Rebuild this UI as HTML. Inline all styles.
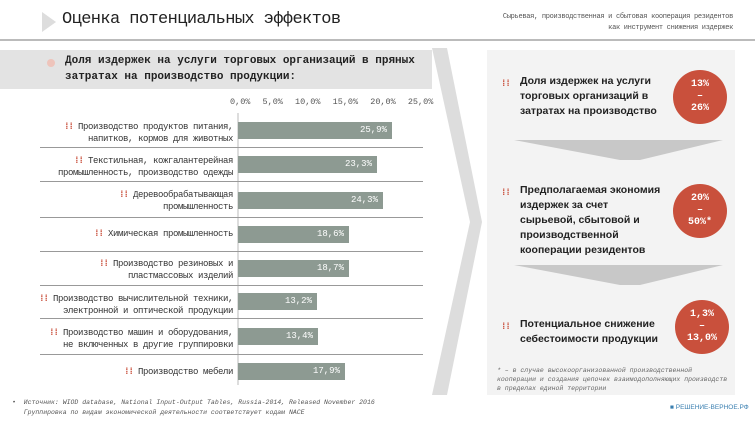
<!DOCTYPE html>
<html><head><meta charset="utf-8"><style>
body{margin:0;width:755px;height:425px;background:#fff;position:relative;overflow:hidden;font-family:"Liberation Mono","DejaVu Sans Mono",monospace;color:#222}
.a{position:absolute}
.lbl{position:absolute;right:522px;text-align:right;font-size:9px;letter-spacing:-0.4px;line-height:12px;color:#333;white-space:nowrap}
.bar{position:absolute;left:238px;height:17px;background:#8d9a92;color:#fff;font-size:9px;line-height:17px;text-align:right;box-sizing:border-box;padding-right:5px}
.sep{position:absolute;left:40px;width:383px;height:1px;background:#999}
.dots{color:#c9503c;font-size:9px;font-weight:bold;letter-spacing:-1px}
.c{position:absolute;width:54px;height:54px;border-radius:50%;background:#c9503c;color:#fff;font-size:10px;font-weight:bold;text-align:center;display:flex;flex-direction:column;justify-content:center;line-height:12px}
.rt{position:absolute;left:520px;font-family:"Liberation Sans",sans-serif;font-weight:bold;font-size:10.5px;line-height:15px;color:#222}
</style></head><body>
<svg class="a" style="left:0;top:0" width="755" height="425">
<polygon points="42,12 56,22 42,32" fill="#ddd"/>
<rect x="0" y="39" width="755" height="2" fill="#bbb"/>
<rect x="0" y="50" width="432" height="39" fill="#e3e3e3"/>
<polygon points="432,48 447,48 482,222 447,395 432,395 470,222" fill="#ddd"/>
<rect x="487" y="50" width="248" height="345" fill="#f3f3f3"/>
<polygon points="514,140 723,140 640,160 620,160" fill="#c8c8c8"/>
<polygon points="514,265 723,265 640,285 620,285" fill="#c8c8c8"/>
<line x1="238" y1="113" x2="238" y2="385" stroke="#bbb"/>
<circle cx="51" cy="63" r="4" fill="#eec4bb"/>
</svg>
<div class="a" style="left:62px;top:10px;font-size:17px;letter-spacing:-0.6px;color:#222">Оценка потенциальных эффектов</div>
<div class="a" style="right:22px;top:12px;font-size:7px;letter-spacing:-0.3px;line-height:11px;text-align:right;color:#555">Сырьевая, производственная и сбытовая кооперация резидентов<br>как инструмент снижения издержек</div>
<div class="a" style="left:65px;top:53px;font-size:11px;font-weight:bold;line-height:16px;color:#222">Доля издержек на услуги торговых организаций в пряных<br>затратах на производство продукции:</div>
<div class="a" style="left:230px;top:97px;font-size:8.5px;color:#555;word-spacing:7px">0,0% 5,0% 10,0% 15,0% 20,0% 25,0%</div>

<div class="lbl" style="top:121px"><span class="dots">⁞⁞</span> Производство продуктов питания,<br>напитков, кормов для животных</div>
<div class="bar" style="top:122px;width:154px">25,9%</div>
<div class="sep" style="top:147px"></div>
<div class="lbl" style="top:155px"><span class="dots">⁞⁞</span> Текстильная, кожгалантерейная<br>промышленность, производство одежды</div>
<div class="bar" style="top:156px;width:139px">23,3%</div>
<div class="sep" style="top:181px"></div>
<div class="lbl" style="top:189px"><span class="dots">⁞⁞</span> Деревообрабатывающая<br>промышленность</div>
<div class="bar" style="top:192px;width:145px">24,3%</div>
<div class="sep" style="top:217px"></div>
<div class="lbl" style="top:228px"><span class="dots">⁞⁞</span> Химическая промышленность</div>
<div class="bar" style="top:226px;width:111px">18,6%</div>
<div class="sep" style="top:251px"></div>
<div class="lbl" style="top:258px"><span class="dots">⁞⁞</span> Производство резиновых и<br>пластмассовых изделий</div>
<div class="bar" style="top:260px;width:111px">18,7%</div>
<div class="sep" style="top:285px"></div>
<div class="lbl" style="top:293px"><span class="dots">⁞⁞</span> Производство вычислительной техники,<br>электронной и оптической продукции</div>
<div class="bar" style="top:293px;width:79px">13,2%</div>
<div class="sep" style="top:318px"></div>
<div class="lbl" style="top:327px"><span class="dots">⁞⁞</span> Производство машин и оборудования,<br>не включенных в другие группировки</div>
<div class="bar" style="top:328px;width:80px">13,4%</div>
<div class="sep" style="top:354px"></div>
<div class="lbl" style="top:366px"><span class="dots">⁞⁞</span> Производство мебели</div>
<div class="bar" style="top:363px;width:107px">17,9%</div>

<div class="a" style="left:12px;top:398px;font-size:6.5px;line-height:10px;color:#555;font-style:italic">•&nbsp; Источник: WIOD database, National Input-Output Tables, Russia-2014, Released November 2016<br>&nbsp;&nbsp;&nbsp;Группировка по видам экономической деятельности соответствует кодам NACE</div>

<div class="a dots" style="left:501px;top:79px">⁞⁞</div>
<div class="rt" style="top:74px">Доля издержек на услуги<br>торговых организаций в<br>затратах на производство</div>
<div class="c" style="left:673px;top:70px">13%<br>–<br>26%</div>
<div class="a dots" style="left:501px;top:188px">⁞⁞</div>
<div class="rt" style="top:183px">Предполагаемая экономия<br>издержек за счет<br>сырьевой, сбытовой и<br>производственной<br>кооперации резидентов</div>
<div class="c" style="left:673px;top:184px">20%<br>–<br>50%*</div>
<div class="a dots" style="left:501px;top:322px">⁞⁞</div>
<div class="rt" style="top:317px">Потенциальное снижение<br>себестоимости продукции</div>
<div class="c" style="left:675px;top:300px">1,3%<br>–<br>13,0%</div>
<div class="a" style="left:497px;top:366px;font-size:6.5px;line-height:9px;color:#666;font-style:italic;width:235px">* – в случае высокоорганизованной производственной кооперации и создания цепочек взаимодополняющих производств в пределах единой территории</div>
<div class="a" style="left:670px;top:404px;font-size:6.5px;color:#3a7fb0;font-family:'Liberation Sans',sans-serif">■ РЕШЕНИЕ-ВЕРНОЕ.РФ</div>
</body></html>
